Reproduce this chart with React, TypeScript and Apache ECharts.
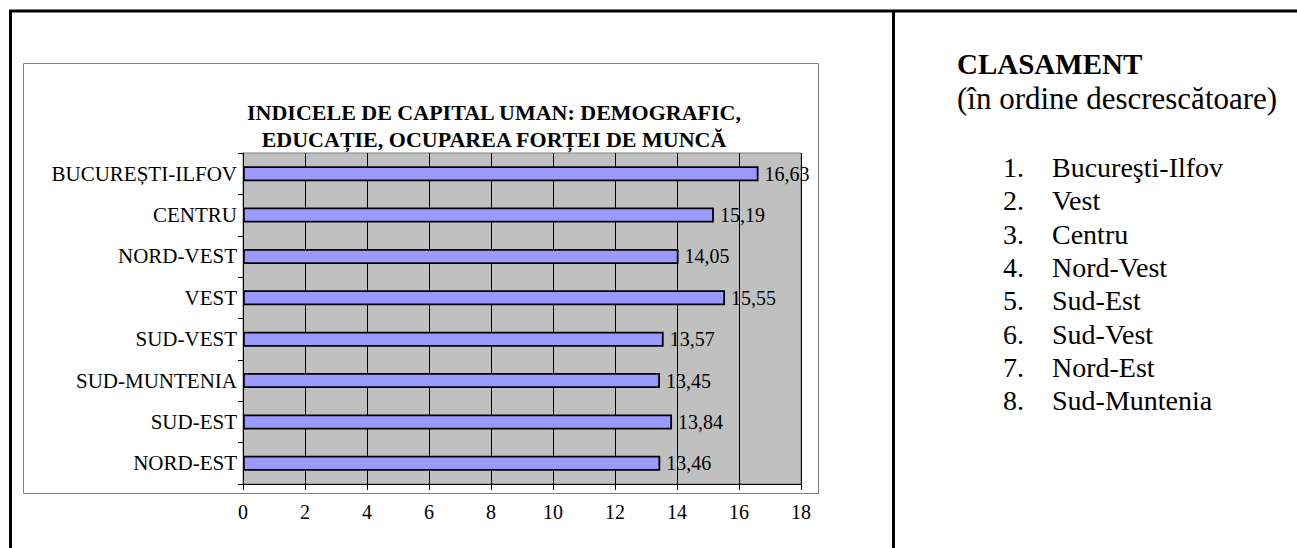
import React, { useEffect, useRef } from "react";
import * as echarts from "echarts";

const categories = [
  "BUCUREȘTI-ILFOV",
  "CENTRU",
  "NORD-VEST",
  "VEST",
  "SUD-VEST",
  "SUD-MUNTENIA",
  "SUD-EST",
  "NORD-EST",
];
const values = [16.63, 15.19, 14.05, 15.55, 13.57, 13.45, 13.84, 13.46];
const xTicks = { min: 0, max: 18, interval: 2 };
const titleLines = [
  "INDICELE DE CAPITAL UMAN: DEMOGRAFIC,",
  "EDUCAȚIE, OCUPAREA FORȚEI DE MUNCĂ",
];
const rankingTitle = "CLASAMENT";
const rankingSubtitle = "(în ordine descrescătoare)";
const ranking = [
  "Bucureşti-Ilfov",
  "Vest",
  "Centru",
  "Nord-Vest",
  "Sud-Est",
  "Sud-Vest",
  "Nord-Est",
  "Sud-Muntenia",
];

const FONT = "'Liberation Serif', 'Times New Roman', serif";

export default function App() {
  const ref = useRef<HTMLDivElement>(null);
  useEffect(() => {
    if (!ref.current) return;
    const chart = echarts.init(ref.current, undefined, { renderer: "svg" });
    const listGraphics: any[] = [];
    ranking.forEach((name, i) => {
      const mid = 167.5 + i * 33.3;
      const base = {
        fontFamily: FONT,
        fontSize: 28,
        fill: "#000",
        verticalAlign: "middle",
      };
      listGraphics.push({
        type: "text",
        x: 1003,
        y: mid,
        style: { ...base, text: `${i + 1}.` },
      });
      listGraphics.push({
        type: "text",
        x: 1052,
        y: mid,
        style: { ...base, text: name },
      });
    });
    chart.setOption({
      animation: false,
      backgroundColor: "#fff",
      title: {
        text: titleLines.join("\n"),
        left: 489,
        top: 94,
        textAlign: "center",
        textStyle: {
          fontFamily: FONT,
          fontSize: 22,
          fontWeight: "bold",
          color: "#000",
          lineHeight: 27,
        },
      },
      grid: {
        left: 243,
        top: 153,
        width: 558,
        height: 331,
        show: true,
        backgroundColor: "#c0c0c0",
        borderColor: "#808080",
        borderWidth: 1,
      },
      xAxis: {
        type: "value",
        min: xTicks.min,
        max: xTicks.max,
        interval: xTicks.interval,
        axisLine: { show: true, lineStyle: { color: "#000", width: 1 } },
        axisTick: { show: true, length: 6, lineStyle: { color: "#000" } },
        splitLine: { show: true, lineStyle: { color: "#000", width: 1 } },
        axisLabel: { fontFamily: FONT, fontSize: 20, color: "#000", margin: 18 },
      },
      yAxis: {
        type: "category",
        data: categories,
        inverse: true,
        axisLine: { show: true, lineStyle: { color: "#000", width: 1 } },
        axisTick: { show: true, length: 5, lineStyle: { color: "#000" } },
        splitLine: { show: false },
        axisLabel: { fontFamily: FONT, fontSize: 21, color: "#000", margin: 6 },
      },
      series: [
        {
          type: "bar",
          data: values,
          barWidth: 15,
          itemStyle: { color: "#9999ff", borderColor: "#000", borderWidth: 1.8 },
          label: {
            show: true,
            position: "right",
            distance: 6,
            fontFamily: FONT,
            fontSize: 20,
            color: "#000",
            formatter: (p: any) => p.value.toFixed(2).replace(".", ","),
          },
        },
      ],
      graphic: [
        { type: "line", shape: { x1: 9, y1: 11, x2: 1297, y2: 11 }, style: { stroke: "#000", lineWidth: 3 } },
        { type: "line", shape: { x1: 10.5, y1: 10, x2: 10.5, y2: 548 }, style: { stroke: "#000", lineWidth: 3 } },
        { type: "line", shape: { x1: 893.5, y1: 10, x2: 893.5, y2: 548 }, style: { stroke: "#000", lineWidth: 3 } },
        { type: "rect", shape: { x: 23.5, y: 63.5, width: 795, height: 430 }, style: { fill: "none", stroke: "#808080", lineWidth: 1 }, z: -1 },
        {
          type: "text",
          x: 957,
          y: 64,
          style: { text: rankingTitle, fontFamily: FONT, fontSize: 29, fontWeight: "bold", fill: "#000", verticalAlign: "middle" },
        },
        {
          type: "text",
          x: 957,
          y: 98.5,
          style: { text: rankingSubtitle, fontFamily: FONT, fontSize: 31, fill: "#000", verticalAlign: "middle" },
        },
        ...listGraphics,
      ],
    });
    return () => chart.dispose();
  }, []);
  return (
    <div
      ref={ref}
      style={{ position: "fixed", left: 0, top: 0, width: 1297, height: 548 }}
    />
  );
}
